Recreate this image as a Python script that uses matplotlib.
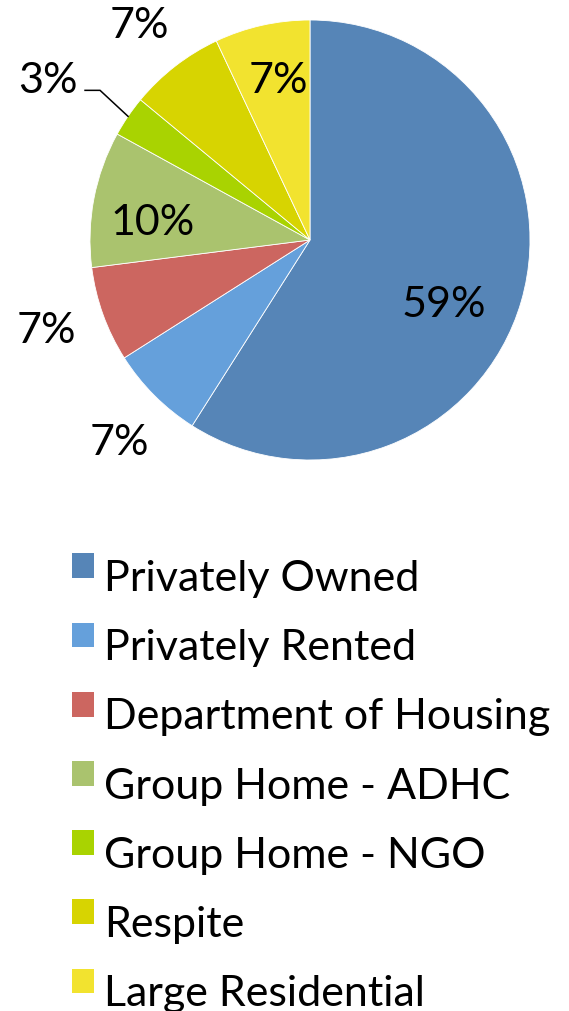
import numpy as np
import matplotlib.pyplot as plt
from matplotlib.patches import Rectangle
from matplotlib.legend_handler import HandlerPatch
from matplotlib.transforms import offset_copy

# ====================================================
# DATA
# ====================================================

categories = [
    "Privately Owned",
    "Privately Rented",
    "Department of Housing",
    "Group Home - ADHC",
    "Group Home - NGO",
    "Respite",
    "Large Residential",
]
shares = [59, 7, 7, 10, 3, 7, 7]
pct_labels = ["59%", "7%", "7%", "10%", "3%", "7%", "7%"]

colors = ["#5685B7", "#65A0DB", "#CC6660", "#AAC36E", "#A9D301", "#D7D401", "#F2E32F"]

# label placement: radial distance and angle shift from the wedge middle
label_dist = [0.668, 1.251, 1.26, 0.724, 1.403, 1.261, 0.759]
label_shift = [-8.1, 1.3, -1.5, 3.2, 2.3, 0.2, -1.6]

plt.rcParams["font.family"] = ["Lato", "DejaVu Sans"]
FS = 31

# ====================================================
# PIE
# ====================================================

W, H = 569, 1012
fig = plt.figure(figsize=(W / 100, H / 100), dpi=100)

cx, cy, r = 310, 241, 220
ax = fig.add_axes([(cx - r) / W, 1 - (cy + r) / H, 2 * r / W, 2 * r / H])

wedges, _ = ax.pie(
    shares,
    colors=colors,
    startangle=90,
    counterclock=False,
    radius=1.0,
    wedgeprops=dict(edgecolor="white", linewidth=0.6),
)
ax.set_xlim(-1, 1)
ax.set_ylim(-1, 1)
ax.set_aspect("equal")
ax.axis("off")

# put the cap-height middle of the text on the point
txt_tr = offset_copy(ax.transData, fig=fig, x=0, y=-FS * 0.358, units="points")

for i, w in enumerate(wedges):
    mid = (w.theta1 + w.theta2) / 2
    theta = np.deg2rad(mid + label_shift[i])
    d = label_dist[i]
    ax.text(d * np.cos(theta), d * np.sin(theta), pct_labels[i],
            ha="center", va="baseline", fontsize=FS,
            transform=txt_tr, clip_on=False)

    if categories[i] == "Group Home - NGO":
        # leader line from the label to the wedge edge
        t = np.deg2rad(mid)
        ex, ey = np.cos(t), np.sin(t)
        kx, ky = ex - 28 / r, ey + 26 / r
        sx = kx - 15 / r
        ax.plot([sx, kx, ex], [ky, ky, ey], color="black", lw=1.1,
                clip_on=False, solid_joinstyle="miter")

# ====================================================
# LEGEND
# ====================================================


def raised_square(legend, orig_handle, xdescent, ydescent, width, height, fontsize):
    return Rectangle((-xdescent, -ydescent + 6.5), width, height)


fig.legend(
    wedges, categories,
    loc="upper left",
    bbox_to_anchor=(72 / W, 1 - 560 / H),
    frameon=False,
    fontsize=FS,
    handlelength=0.51,
    handleheight=0.51,
    handletextpad=0.23,
    labelspacing=0.725,
    borderpad=0,
    borderaxespad=0,
    handler_map={w: HandlerPatch(patch_func=raised_square) for w in wedges},
)
for h in fig.legends[0].legend_handles:
    h.set_edgecolor("none")

plt.savefig("out.png", dpi=100)
